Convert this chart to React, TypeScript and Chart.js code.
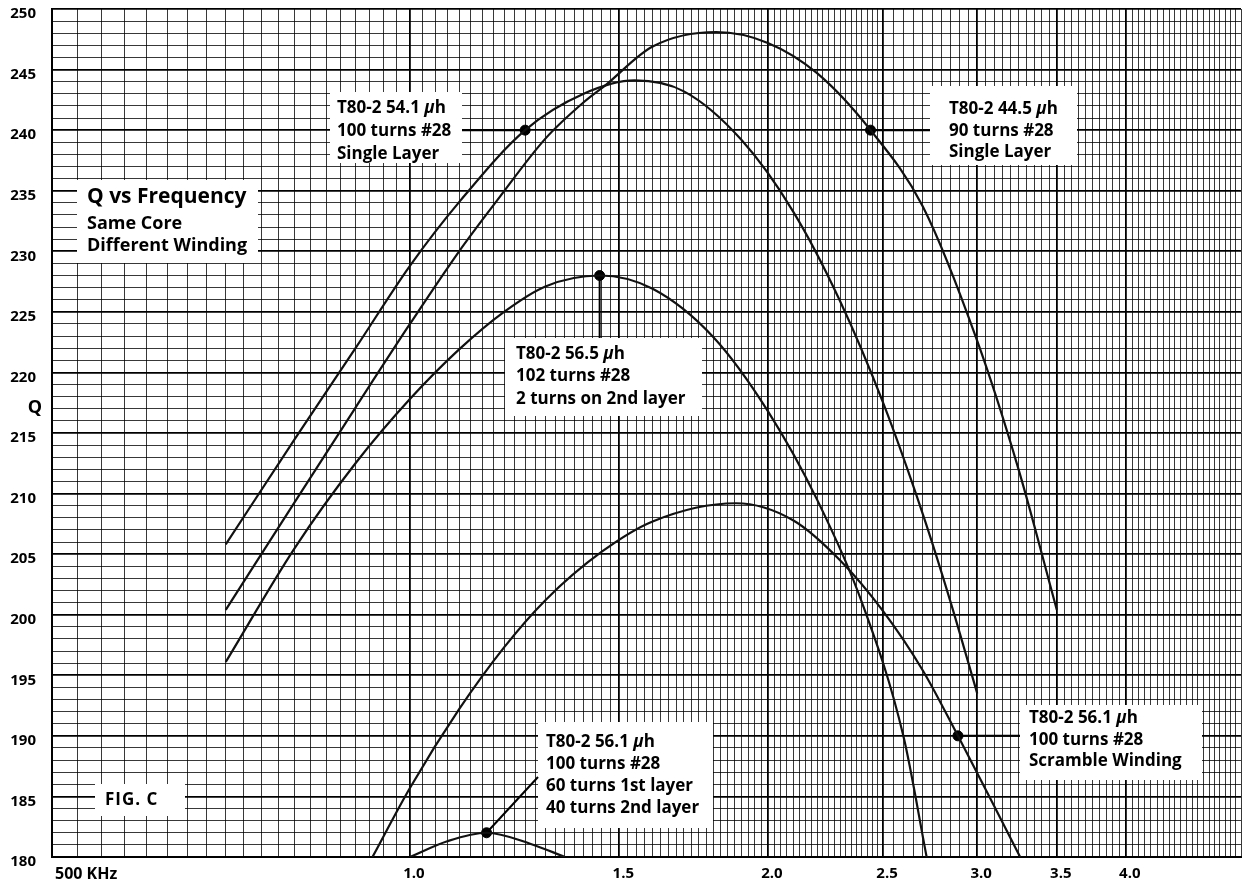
import { useEffect, useRef } from 'react';
import { Chart, registerables } from 'chart.js';

Chart.register(...registerables);

// ---------- data (frequency in MHz, Q) ----------
// T80-2 54.1 µh, 100 turns #28, single layer
const freqA = [0.70, 0.80, 0.90, 1.00, 1.103, 1.25, 1.40, 1.545, 1.70, 1.90, 2.10, 2.30, 2.50, 2.70, 2.85, 3.00];
const qA = [205.8, 214.5, 222.0, 228.8, 234.2, 240.0, 243.0, 244.1, 243.2, 239.2, 233.3, 225.9, 217.5, 208.3, 201.0, 193.5];

// T80-2 44.5 µh, 90 turns #28, single layer
const freqB = [0.70, 0.80, 0.90, 1.00, 1.10, 1.184, 1.30, 1.40, 1.46, 1.60, 1.81, 2.00, 2.20, 2.44, 2.70, 3.00, 3.25, 3.50];
const qB = [200.4, 209.3, 217.1, 224.0, 230.0, 234.2, 239.3, 242.3, 243.7, 246.9, 248.1, 247.2, 244.7, 240.0, 233.7, 222.6, 212.0, 200.4];

// T80-2 56.5 µh, 102 turns #28, 2 turns on 2nd layer
const freqC = [0.70, 0.80, 0.90, 1.00, 1.10, 1.20, 1.30, 1.444, 1.60, 1.80, 2.00, 2.20, 2.40, 2.60, 2.72];
const qC = [196.1, 205.5, 212.5, 217.8, 221.9, 225.0, 227.1, 228.0, 226.9, 222.9, 216.8, 209.5, 201.0, 190.0, 180.0];

// T80-2 56.1 µh, 100 turns #28, scramble winding
const freqD = [0.93, 1.00, 1.10, 1.20, 1.30, 1.45, 1.60, 1.88, 2.10, 2.30, 2.50, 2.70, 2.89, 3.10, 3.26];
const qD = [180.0, 185.7, 192.2, 197.3, 201.2, 205.2, 207.7, 209.2, 207.8, 204.5, 200.3, 195.4, 190.0, 184.2, 180.0];

// T80-2 56.1 µh, 100 turns #28, 60 turns 1st layer / 40 turns 2nd layer
const freqE = [1.00, 1.075, 1.16, 1.262, 1.35];
const qE = [180.0, 181.3, 182.0, 181.1, 180.0];

// marked points (dots) – order: A, B, C, E, D
const dotF = [1.25, 2.44, 1.444, 1.16, 2.89];
const dotQ = [240, 240, 228, 182, 190];

// axis ticks
const xTickValues = [1.0, 1.5, 2.0, 2.5, 3.0, 3.5, 4.0];
const xTickLabels = ['1.0', '1.5', '2.0', '2.5', '3.0', '3.5', '4.0'];
const xMin = 0.5;
const xMax = 5.0;
const yMin = 180;
const yMax = 250;
const yLabelStep = 5;

// graph-paper vertical rulings: [from, to, step]
const xGridSegments: [number, number, number][] = [
  [0.5, 2.5, 0.025],
  [2.5, 5.0, 0.05],
];

const xGrid: number[] = [];
xGridSegments.forEach(([a, b, s]) => {
  const n = Math.round((b - a) / s);
  for (let i = 0; i < n; i++) {
    const v = Math.round((a + i * s) * 1000) / 1000;
    if (!xGrid.includes(v)) xGrid.push(v);
  }
});
xGrid.push(xMax);

const yGrid: number[] = [];
for (let v = yMin; v <= yMax; v++) yGrid.push(v);

const FONT = "'Open Sans', 'DejaVu Sans', sans-serif";

type Box = {
  x: number; y: number; w: number; h: number;
  tx: number; lines: string[]; lineY: number[]; size: number; spacing?: number;
  dot?: number; leader?: 'h' | 'v' | [number, number];
};

const boxes: Box[] = [
  { x: 330, y: 92, w: 132, h: 71, tx: 337, lines: ['T80-2 54.1 μh', '100 turns #28', 'Single Layer'], lineY: [108, 131, 154], size: 17, dot: 0, leader: 'h' },
  { x: 930, y: 86, w: 147, h: 79, tx: 949, lines: ['T80-2 44.5 μh', '90 turns #28', 'Single Layer'], lineY: [109, 131, 152], size: 17, dot: 1, leader: 'h' },
  { x: 505, y: 338, w: 197, h: 78, tx: 516, lines: ['T80-2 56.5 μh', '102 turns #28', '2 turns on 2nd layer'], lineY: [354, 376, 399], size: 17, dot: 2, leader: 'v' },
  { x: 538, y: 722, w: 175, h: 106, tx: 546, lines: ['T80-2 56.1 μh', '100 turns #28', '60 turns 1st layer', '40 turns 2nd layer'], lineY: [742, 764, 786, 808], size: 17, dot: 3, leader: [538, 777] },
  { x: 1020, y: 705, w: 182, h: 75, tx: 1029, lines: ['T80-2 56.1 μh', '100 turns #28', 'Scramble Winding'], lineY: [718, 740, 761], size: 17, dot: 4, leader: 'h' },
  { x: 95, y: 784, w: 90, h: 32, tx: 105, lines: ['FIG. C'], lineY: [800], size: 17, spacing: 1 },
];

function drawRichLine(ctx: CanvasRenderingContext2D, text: string, x: number, y: number, size: number, spacing = 0) {
  (ctx as any).letterSpacing = `${spacing}px`;
  const parts = text.split('μ');
  let cx = x;
  parts.forEach((p, i) => {
    ctx.font = `bold ${size}px ${FONT}`;
    ctx.fillText(p, cx, y);
    cx += ctx.measureText(p).width;
    if (i < parts.length - 1) {
      ctx.font = `italic bold ${size}px ${FONT}`;
      ctx.fillText('μ', cx, y);
      cx += ctx.measureText('μ').width;
    }
  });
  (ctx as any).letterSpacing = '0px';
}

const paperPlugin = {
  id: 'paper',
  beforeDraw(chart: any) {
    const ctx = chart.ctx;
    ctx.save();
    ctx.fillStyle = '#fff';
    ctx.fillRect(0, 0, chart.width, chart.height);
    ctx.restore();
  },
  beforeDatasetsDraw(chart: any) {
    const ctx: CanvasRenderingContext2D = chart.ctx;
    const xs = chart.scales.x;
    const ys = chart.scales.y;
    ctx.save();
    // white label panels over the rulings
    ctx.fillStyle = '#fff';
    ctx.fillRect(77, 180, 181, 83);
    boxes.forEach((b) => ctx.fillRect(b.x, b.y, b.w, b.h));
    // leader lines
    ctx.strokeStyle = '#000';
    ctx.lineWidth = 2;
    boxes.forEach((b) => {
      if (b.dot === undefined || !b.leader) return;
      const px = xs.getPixelForValue(dotF[b.dot]);
      const py = ys.getPixelForValue(dotQ[b.dot]);
      ctx.beginPath();
      ctx.moveTo(px, py);
      if (b.leader === 'h') {
        const ex = b.x > px ? b.x : b.x + b.w;
        ctx.lineTo(ex, py);
      } else if (b.leader === 'v') {
        ctx.lineTo(px, b.y);
      } else {
        ctx.lineTo(b.leader[0], b.leader[1]);
      }
      ctx.stroke();
    });
    // texts
    ctx.fillStyle = '#000';
    ctx.textBaseline = 'middle';
    ctx.textAlign = 'left';
    ctx.font = `bold 21px ${FONT}`;
    ctx.fillText('Q vs Frequency', 87, 197);
    ctx.font = `bold 18px ${FONT}`;
    ctx.fillText('Same Core', 87, 224);
    ctx.fillText('Different Winding', 87, 246);
    boxes.forEach((b) => {
      b.lines.forEach((l, i) => drawRichLine(ctx, l, b.tx, b.lineY[i], b.size, b.spacing || 0));
    });
    ctx.restore();
  },
  afterDraw(chart: any) {
    const ctx: CanvasRenderingContext2D = chart.ctx;
    const xs = chart.scales.x;
    ctx.save();
    ctx.fillStyle = '#000';
    ctx.textBaseline = 'middle';
    ctx.textAlign = 'center';
    ctx.font = `bold 18px ${FONT}`;
    ctx.fillText('Q', 35, 408);
    ctx.textAlign = 'left';
    ctx.font = `bold 16px ${FONT}`;
    ctx.fillText('500 KHz', xs.left + 3, 874);
    ctx.restore();
  },
};

const toPts = (f: number[], q: number[]) => f.map((v, i) => ({ x: v, y: q[i] }));

const isMajorX = (v: number) => xTickValues.some((t) => Math.abs(t - v) < 1e-6);

const noPad = (scale: any) => {
  scale.paddingTop = 0;
  scale.paddingBottom = 0;
  scale.paddingLeft = 0;
  scale.paddingRight = 0;
};

export default function App() {
  const ref = useRef<HTMLCanvasElement | null>(null);

  useEffect(() => {
    if (!ref.current) return;
    const curve = (f: number[], q: number[]) => ({
      type: 'line' as const,
      data: toPts(f, q),
      borderColor: '#111',
      borderWidth: 2.2,
      pointRadius: 0,
      fill: false,
      cubicInterpolationMode: 'monotone' as const,
    });
    const chart = new Chart(ref.current, {
      type: 'line',
      data: {
        datasets: [
          curve(freqA, qA),
          curve(freqB, qB),
          curve(freqC, qC),
          curve(freqD, qD),
          curve(freqE, qE),
          {
            type: 'scatter' as const,
            data: toPts(dotF, dotQ),
            pointRadius: 5,
            pointBackgroundColor: '#000',
            pointBorderColor: '#000',
            showLine: false,
          } as any,
        ],
      },
      options: {
        animation: false,
        responsive: false,
        maintainAspectRatio: false,
        devicePixelRatio: 1,
        layout: { padding: { top: 9, right: 0, left: 0, bottom: 0 } },
        plugins: { legend: { display: false }, tooltip: { enabled: false } },
        events: [],
        scales: {
          x: {
            type: 'logarithmic',
            min: xMin,
            max: xMax,
            afterBuildTicks: (scale: any) => {
              scale.ticks = xGrid.map((v) => ({ value: v }));
            },
            afterFit: (scale: any) => {
              scale.height = 27;
              noPad(scale);
            },
            ticks: {
              autoSkip: false,
              maxRotation: 0,
              minRotation: 0,
              padding: 8,
              labelOffset: 4,
              color: '#000',
              font: { family: FONT, size: 15, weight: 'bold' },
              callback: (value: any) => {
                const i = xTickValues.findIndex((t) => Math.abs(t - Number(value)) < 1e-6);
                return i >= 0 ? xTickLabels[i] : '';
              },
            },
            grid: {
              drawTicks: false,
              color: (c: any) => (c.tick && isMajorX(c.tick.value) ? '#000' : 'rgba(0,0,0,0.78)'),
              lineWidth: (c: any) => (c.tick && isMajorX(c.tick.value) ? 1.8 : 1),
            },
            border: { display: true, color: '#000', width: 2 },
          },
          y: {
            type: 'linear',
            min: yMin,
            max: yMax,
            afterBuildTicks: (scale: any) => {
              scale.ticks = yGrid.map((v) => ({ value: v }));
            },
            afterFit: (scale: any) => {
              scale.width = 52;
              noPad(scale);
            },
            ticks: {
              autoSkip: false,
              padding: 16,
              labelOffset: 5,
              color: '#000',
              font: { family: FONT, size: 15, weight: 'bold' },
              callback: (value: any) => (Number(value) % yLabelStep === 0 ? String(value) : ''),
            },
            grid: {
              drawTicks: false,
              color: (c: any) => (c.tick && c.tick.value % yLabelStep === 0 ? '#000' : 'rgba(0,0,0,0.78)'),
              lineWidth: (c: any) => (c.tick && c.tick.value % yLabelStep === 0 ? 1.8 : 1),
            },
            border: { display: true, color: '#000', width: 2 },
          },
        },
      },
      plugins: [paperPlugin],
    } as any);
    return () => chart.destroy();
  }, []);

  return (
    <div style={{ position: 'absolute', left: 0, top: 0, width: 1247, height: 884, background: '#fff' }}>
      <canvas ref={ref} width={1247} height={884} style={{ display: 'block', width: 1247, height: 884 }} />
    </div>
  );
}
